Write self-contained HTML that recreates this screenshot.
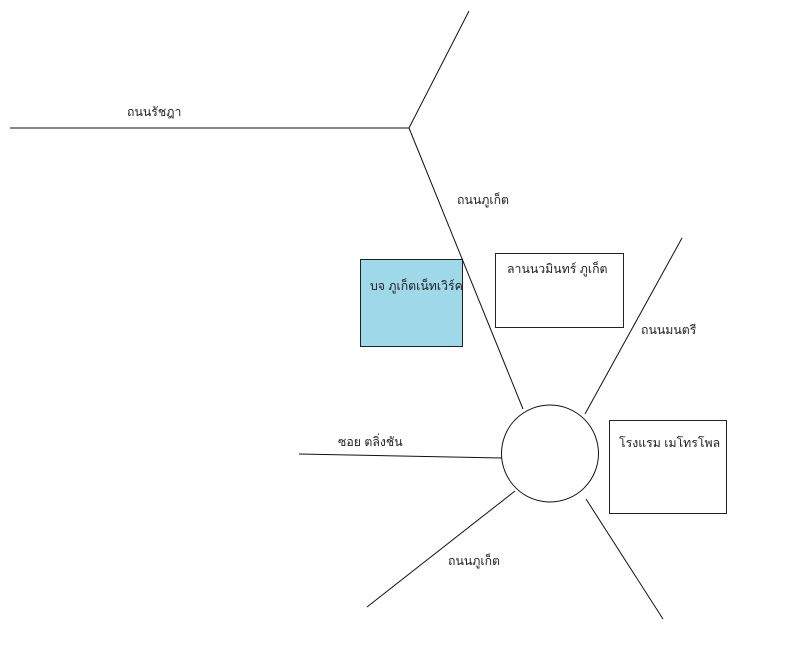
<!DOCTYPE html>
<html><head><meta charset="utf-8"><style>
html,body{margin:0;padding:0;background:#fff;width:804px;height:650px;overflow:hidden}
svg text{font-family:"Liberation Sans","DejaVu Sans","Noto Sans CJK SC",sans-serif;font-size:12.3px;fill:#222}
</style></head><body>
<svg width="804" height="650" xmlns="http://www.w3.org/2000/svg">
<rect x="360.5" y="259.5" width="102" height="87" fill="#9fd9e9" stroke="#222" stroke-width="1"/>
<rect x="495.5" y="253.5" width="128" height="74" fill="#fff" stroke="#222" stroke-width="1"/>
<rect x="609.5" y="420.5" width="117" height="93" fill="#fff" stroke="#222" stroke-width="1"/>
<g stroke="#111" stroke-width="1" fill="none">
<line x1="10" y1="128" x2="409" y2="128"/>
<line x1="409" y1="128" x2="469" y2="11"/>
<line x1="409" y1="128" x2="523" y2="409"/>
<line x1="585" y1="414" x2="682" y2="238"/>
<line x1="299" y1="454" x2="502" y2="458"/>
<line x1="367" y1="607" x2="515" y2="491"/>
<line x1="586" y1="499" x2="663" y2="619"/>
<circle cx="550" cy="453.5" r="48.5" fill="#fff"/>
</g>
<text x="127" y="116">ถนนรัชฎา</text>
<text x="457" y="204">ถนนภูเก็ต</text>
<text x="370" y="290">บจ ภูเก็ตเน็ทเวิร์ค</text>
<text x="507" y="273">ลานนวมินทร์ ภูเก็ต</text>
<text x="641" y="334">ถนนมนตรี</text>
<text x="619" y="447">โรงแรม เมโทรโพล</text>
<text x="338" y="446">ซอย ตลิ่งชัน</text>
<text x="448" y="565">ถนนภูเก็ต</text>
</svg>
</body></html>
